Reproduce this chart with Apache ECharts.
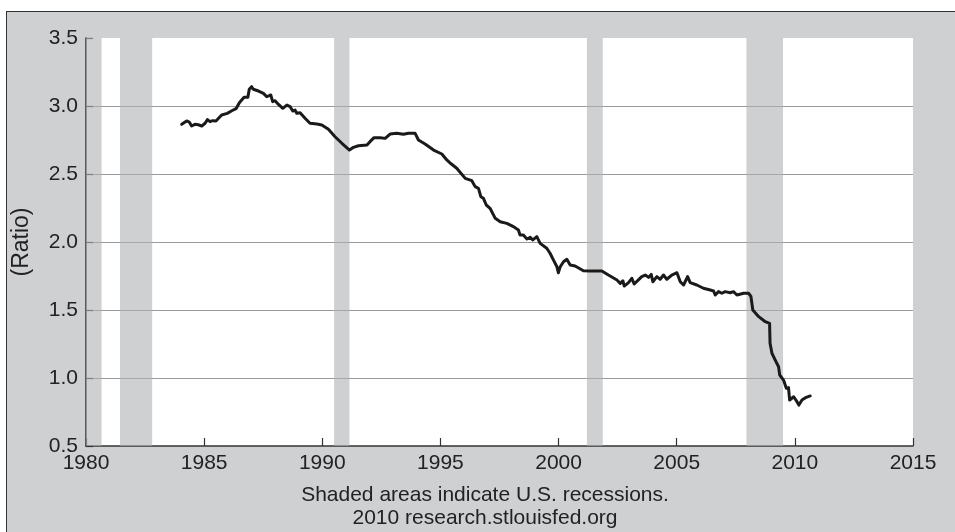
<!DOCTYPE html>
<html>
<head>
<meta charset="utf-8">
<script src="https://cdn.jsdelivr.net/npm/echarts@6/dist/echarts.min.js"></script>
<style>
  html, body { margin: 0; padding: 0; background: #ffffff; overflow: hidden; }
  #frame {
    position: absolute; left: 6px; top: 11px; width: 1000px; height: 600px;
    background: #cfd0d2; border: 1.5px solid #333333; box-sizing: border-box;
  }
  #chart { position: absolute; left: 0; top: 0; width: 955px; height: 532px; }
</style>
</head>
<body>
<div id="frame"></div>
<div id="chart"></div>
<script>
// Ratio series (decimal year, value)
const years = [
  1984.05, 1984.26, 1984.37, 1984.47, 1984.61, 1984.75, 1984.90, 1985.04, 1985.14, 1985.25,
  1985.36, 1985.50, 1985.74, 1985.98, 1986.17, 1986.35, 1986.49, 1986.69, 1986.85, 1986.91,
  1987.01, 1987.08, 1987.30, 1987.51, 1987.65, 1987.82, 1987.90, 1988.00, 1988.10, 1988.18,
  1988.33, 1988.50, 1988.64, 1988.75, 1988.85, 1988.92, 1989.06, 1989.27, 1989.48, 1989.77,
  1989.98, 1990.26, 1990.54, 1990.83, 1991.15, 1991.32, 1991.53, 1991.89, 1992.02, 1992.19,
  1992.45, 1992.66, 1992.87, 1993.15, 1993.43, 1993.65, 1993.93, 1994.07, 1994.35, 1994.71,
  1995.06, 1995.27, 1995.45, 1995.69, 1996.05, 1996.33, 1996.47, 1996.61, 1996.71, 1996.82,
  1996.94, 1997.10, 1997.32, 1997.53, 1997.81, 1998.09, 1998.30, 1998.37, 1998.51, 1998.66,
  1998.80, 1998.91, 1999.08, 1999.22, 1999.50, 1999.64, 1999.78, 1999.93, 1999.99, 2000.07,
  2000.21, 2000.35, 2000.49, 2000.70, 2001.05, 2001.34, 2001.83, 2002.11, 2002.47, 2002.61,
  2002.72, 2002.78, 2002.96, 2003.10, 2003.20, 2003.38, 2003.52, 2003.67, 2003.81, 2003.92,
  2003.99, 2004.16, 2004.30, 2004.44, 2004.58, 2004.79, 2005.01, 2005.15, 2005.29, 2005.46,
  2005.57, 2005.85, 2006.13, 2006.42, 2006.56, 2006.63, 2006.77, 2006.91, 2007.05, 2007.26,
  2007.40, 2007.55, 2007.83, 2008.04, 2008.14, 2008.22, 2008.47, 2008.75, 2008.93, 2008.95,
  2009.03, 2009.17, 2009.31, 2009.36, 2009.52, 2009.64, 2009.73, 2009.78, 2009.95, 2010.09,
  2010.17, 2010.30, 2010.48, 2010.65
];
const ratios = [
  2.865, 2.890, 2.882, 2.853, 2.865, 2.862, 2.853, 2.873, 2.900, 2.885,
  2.892, 2.890, 2.934, 2.946, 2.965, 2.980, 3.024, 3.064, 3.064, 3.123,
  3.142, 3.123, 3.110, 3.093, 3.068, 3.081, 3.032, 3.039, 3.020, 3.032,
  2.983, 3.007, 2.995, 2.963, 2.970, 2.946, 2.951, 2.910, 2.873, 2.868,
  2.860, 2.829, 2.774, 2.726, 2.676, 2.696, 2.708, 2.713, 2.738, 2.767,
  2.767, 2.762, 2.794, 2.799, 2.792, 2.799, 2.799, 2.750, 2.720, 2.676,
  2.647, 2.603, 2.575, 2.542, 2.468, 2.451, 2.407, 2.395, 2.333, 2.321,
  2.272, 2.248, 2.174, 2.149, 2.137, 2.113, 2.088, 2.051, 2.051, 2.022,
  2.034, 2.015, 2.039, 1.990, 1.954, 1.917, 1.868, 1.818, 1.774, 1.818,
  1.855, 1.873, 1.831, 1.824, 1.789, 1.787, 1.787, 1.757, 1.721, 1.696,
  1.715, 1.676, 1.701, 1.733, 1.691, 1.721, 1.745, 1.757, 1.740, 1.762,
  1.708, 1.745, 1.726, 1.757, 1.726, 1.757, 1.774, 1.708, 1.684, 1.745,
  1.701, 1.684, 1.660, 1.647, 1.640, 1.610, 1.635, 1.623, 1.635, 1.627,
  1.635, 1.610, 1.623, 1.623, 1.600, 1.500, 1.451, 1.414, 1.402, 1.255,
  1.182, 1.132, 1.083, 1.022, 0.985, 0.924, 0.929, 0.838, 0.862, 0.826,
  0.801, 0.838, 0.858, 0.868
];

// U.S. recession periods (decimal years)
const recessionStart = [1980.00, 1981.44, 1990.50, 2001.20, 2007.95];
const recessionEnd   = [1980.66, 1982.80, 1991.15, 2001.87, 2009.50];

// Axis settings
const xMin = 1980, xMax = 2015, xStep = 5;
const yMin = 0.5, yMax = 3.5, yStep = 0.5;

const yAxisTitle = '(Ratio)';
const noteLines = ['Shaded areas indicate U.S. recessions.', '2010 research.stlouisfed.org'];

const FONT = '"Liberation Sans", Arial, Helvetica, sans-serif';
const TEXT = '#222222';
const FS = 21;

const seriesData = years.map((y, i) => [y, ratios[i]]);
const bands = recessionStart.map((s, i) => [{ xAxis: s }, { xAxis: recessionEnd[i] }]);

const chart = echarts.init(document.getElementById('chart'), null, { renderer: 'canvas' });
chart.setOption({
  backgroundColor: 'transparent',
  animation: false,
  grid: {
    left: 86, top: 38, right: 42, bottom: 86,
    show: true, backgroundColor: '#ffffff', borderWidth: 0
  },
  xAxis: {
    type: 'value', min: xMin, max: xMax, interval: xStep,
    axisLine: { show: true, onZero: false, lineStyle: { color: '#333333', width: 1.5 } },
    axisTick: { show: true, inside: true, length: 8, lineStyle: { color: '#333333', width: 1.2 } },
    axisLabel: { color: TEXT, fontFamily: FONT, fontSize: FS, margin: 7, formatter: v => String(v) },
    splitLine: { show: false }
  },
  yAxis: {
    type: 'value', min: yMin, max: yMax, interval: yStep,
    axisLine: { show: true, onZero: false, lineStyle: { color: '#333333', width: 1.5 } },
    axisTick: { show: true, inside: true, length: 7, lineStyle: { color: '#333333', width: 1.2 } },
    axisLabel: {
      color: TEXT, fontFamily: FONT, fontSize: FS, margin: 8,
      formatter: v => v.toFixed(1)
    },
    splitLine: {
      show: true, showMinLine: false, showMaxLine: false,
      lineStyle: { color: '#9a9a9a', width: 1.2 }
    }
  },
  graphic: [
    {
      type: 'text', x: 22, y: 242, rotation: Math.PI / 2,
      style: { text: yAxisTitle, fill: TEXT, font: '23px ' + FONT, align: 'center', verticalAlign: 'middle' }
    },
    {
      type: 'text', x: 485, y: 495,
      style: { text: noteLines[0], fill: TEXT, font: FS + 'px ' + FONT, align: 'center', verticalAlign: 'middle' }
    },
    {
      type: 'text', x: 485, y: 518,
      style: { text: noteLines[1], fill: TEXT, font: FS + 'px ' + FONT, align: 'center', verticalAlign: 'middle' }
    }
  ],
  series: [
    {
      type: 'line',
      data: seriesData,
      showSymbol: false,
      symbol: 'none',
      lineStyle: { color: '#1a1a1a', width: 3, join: 'round', cap: 'round' },
      z: 3,
      markArea: {
        silent: true,
        itemStyle: { color: 'rgba(175,176,179,0.6)' },
        data: bands
      }
    }
  ]
});
</script>
</body>
</html>
